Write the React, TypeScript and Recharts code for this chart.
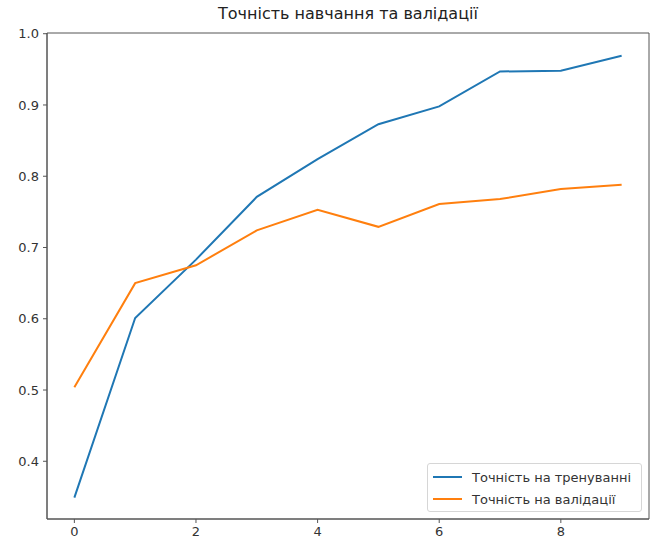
import React from 'react';
import { LineChart, Line, XAxis, YAxis, CartesianGrid } from 'recharts';

const epochs = [0, 1, 2, 3, 4, 5, 6, 7, 8, 9];
const trainAcc = [0.349, 0.601, 0.683, 0.771, 0.824, 0.873, 0.898, 0.947, 0.948, 0.969];
const valAcc = [0.504, 0.650, 0.675, 0.724, 0.753, 0.729, 0.761, 0.768, 0.782, 0.788];
const xTicks = [0, 2, 4, 6, 8];
const yTicks = [0.4, 0.5, 0.6, 0.7, 0.8, 0.9, 1.0];

const seriesNames = ['Точність на тренуванні', 'Точність на валідації'];
const seriesColors = ['#1f77b4', '#ff7f0e'];

const data = epochs.map((e, i) => ({ epoch: e, train: trainAcc[i], val: valAcc[i] }));

const FONT = '"DejaVu Sans", sans-serif';
const tickStyle = { fill: '#333', fontSize: 13, fontFamily: FONT };
const X_DOMAIN = [-0.45, 9.45];
const Y_DOMAIN = [0.319, 1.001];

const LegendBox = () => (
  <div
    style={{
      position: 'absolute',
      left: 427,
      top: 463,
      width: 215,
      height: 49,
      boxSizing: 'border-box',
      border: '1px solid #d6d6d6',
      borderRadius: 3,
      background: 'rgba(255,255,255,0.85)',
      fontFamily: FONT,
      fontSize: 13,
      color: '#333',
      padding: '2px 0 0 5px',
    }}
  >
    {seriesNames.map((name, i) => (
      <div key={name} style={{ display: 'flex', alignItems: 'center', height: 22 }}>
        <span style={{ display: 'inline-block', width: 29, height: 2, background: seriesColors[i], marginRight: 10 }} />
        <span>{name}</span>
      </div>
    ))}
  </div>
);

// frame lines: only the outer edges of the plot area
const frameH = ({ offset }: any) => [offset.top, offset.top + offset.height];
const frameV = ({ offset }: any) => [offset.left, offset.left + offset.width];

export default function App() {
  return (
    <div style={{ position: 'absolute', left: 0, top: 0, width: 654, height: 545, background: '#fff' }}>
      <div
        style={{
          position: 'absolute',
          top: 4,
          left: 47,
          width: 602,
          textAlign: 'center',
          fontFamily: FONT,
          fontSize: 16,
          color: '#222',
        }}
      >
        Точність навчання та валідації
      </div>
      <LineChart width={654} height={545} data={data} margin={{ top: 33, right: 5, left: 7, bottom: 0 }}>
        <CartesianGrid
          stroke="#555"
          strokeWidth={1}
          horizontalCoordinatesGenerator={frameH}
          verticalCoordinatesGenerator={frameV}
        />
        <XAxis
          dataKey="epoch"
          type="number"
          domain={X_DOMAIN}
          ticks={xTicks}
          allowDataOverflow
          height={26}
          tickSize={4}
          tickMargin={4}
          tick={tickStyle}
          stroke="#555"
        />
        <YAxis
          type="number"
          domain={Y_DOMAIN}
          ticks={yTicks}
          allowDataOverflow
          width={40}
          tickSize={4}
          tickMargin={4}
          tick={tickStyle}
          tickFormatter={(v: number) => v.toFixed(1)}
          stroke="#555"
        />
        <Line type="linear" dataKey="train" name={seriesNames[0]} stroke={seriesColors[0]} strokeWidth={2} dot={false} isAnimationActive={false} />
        <Line type="linear" dataKey="val" name={seriesNames[1]} stroke={seriesColors[1]} strokeWidth={2} dot={false} isAnimationActive={false} />
      </LineChart>
      <LegendBox />
    </div>
  );
}
